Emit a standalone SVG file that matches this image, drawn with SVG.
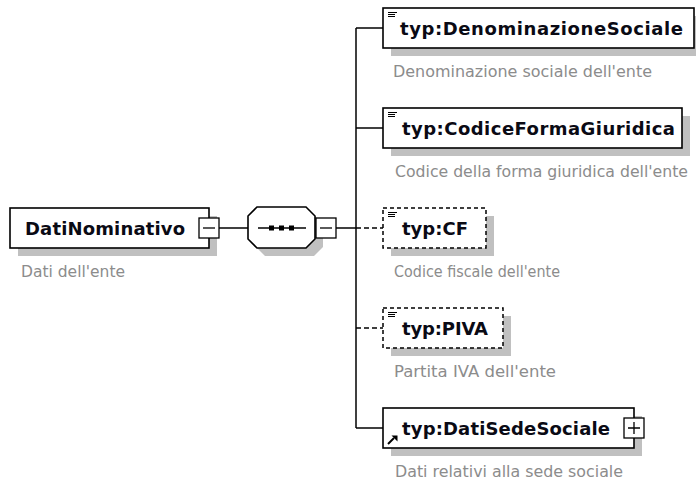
<svg xmlns="http://www.w3.org/2000/svg" width="696" height="485" viewBox="0 0 696 485">
<style>
.bg{fill:#fff}
.box{fill:#fff;stroke:#000;stroke-width:1.6}
.dbox{fill:#fff;stroke:#000;stroke-width:1.5;stroke-dasharray:4 3}
.sh{fill:#c0c0c0}
.btn{fill:#fff;stroke:#000;stroke-width:1.3}
.sign{stroke:#000;stroke-width:1.3;fill:none}
.name{font-family:"DejaVu Sans",sans-serif;font-weight:bold;font-size:18px;fill:#0a0a14}
.desc{font-family:"DejaVu Sans",sans-serif;font-size:15.5px;fill:#8c8c8c}
.conn{stroke:#000;stroke-width:1.5;fill:none}
.dconn{stroke:#000;stroke-width:1.5;fill:none;stroke-dasharray:5 3}
.ico{stroke:#000;stroke-width:1;fill:none}
</style>
<rect class="bg" x="0" y="0" width="696" height="485"/>
<g id="connectors">
<line class="conn" x1="219" y1="228" x2="248" y2="228"/>
<line class="conn" x1="336" y1="228" x2="356" y2="228"/>
<line class="conn" x1="356" y1="28" x2="356" y2="428"/>
<line class="conn" x1="356" y1="28" x2="383" y2="28"/>
<line class="conn" x1="356" y1="128" x2="383" y2="128"/>
<line class="dconn" x1="356" y1="228" x2="383" y2="228"/>
<line class="dconn" x1="356" y1="328" x2="383" y2="328"/>
<line class="conn" x1="356" y1="428" x2="383" y2="428"/>
</g>
<g id="root">
<rect class="sh" x="18" y="216" width="199" height="40"/>
<rect class="box" x="10" y="208" width="199" height="40"/>
<text class="name" x="25" y="235" textLength="160" lengthAdjust="spacing">DatiNominativo</text>
<rect class="btn" x="199" y="218" width="20" height="20"/>
<line class="sign" x1="203" y1="228" x2="215" y2="228"/>
<text class="desc" x="21" y="277" textLength="104" lengthAdjust="spacingAndGlyphs">Dati dell'ente</text>
</g>
<g id="sequence">
<polygon class="sh" points="265,215 314,215 323,224 323,247 314,256 265,256 256,247 256,224"/>
<polygon class="box" points="257,207 306,207 315,216 315,239 306,248 257,248 248,239 248,216"/>
<line class="conn" x1="258" y1="228" x2="306" y2="228"/>
<rect x="269" y="225.5" width="5" height="5" fill="#000"/>
<rect x="279" y="225.5" width="5" height="5" fill="#000"/>
<rect x="289" y="225.5" width="5" height="5" fill="#000"/>
<rect class="btn" x="316" y="218" width="20" height="20"/>
<line class="sign" x1="320" y1="228" x2="332" y2="228"/>
</g>
<g id="denominazione">
<rect class="sh" x="391" y="16" width="311" height="40"/>
<rect class="box" x="383" y="8" width="311" height="40"/>
<path class="ico" d="M388,12.5H397M388,14.5H395M388,16.5H395"/>
<text class="name" x="400" y="35" textLength="283" lengthAdjust="spacing">typ:DenominazioneSociale</text>
<text class="desc" x="393" y="77" textLength="259" lengthAdjust="spacingAndGlyphs">Denominazione sociale dell'ente</text>
</g>
<g id="codiceforma">
<rect class="sh" x="391" y="116" width="299" height="40"/>
<rect class="box" x="383" y="108" width="299" height="40"/>
<path class="ico" d="M388,112.5H397M388,114.5H395M388,116.5H395"/>
<text class="name" x="402" y="135" textLength="273" lengthAdjust="spacing">typ:CodiceFormaGiuridica</text>
<text class="desc" x="395" y="177" textLength="293" lengthAdjust="spacingAndGlyphs">Codice della forma giuridica dell'ente</text>
</g>
<g id="cf">
<rect class="sh" x="391" y="216" width="103" height="40"/>
<rect class="dbox" x="383" y="208" width="103" height="40"/>
<path class="ico" d="M388,212.5H397M388,214.5H395M388,216.5H395"/>
<text class="name" x="402" y="235" textLength="66" lengthAdjust="spacing">typ:CF</text>
<text class="desc" x="394" y="277" textLength="166" lengthAdjust="spacingAndGlyphs">Codice fiscale dell'ente</text>
</g>
<g id="piva">
<rect class="sh" x="391" y="316" width="120" height="40"/>
<rect class="dbox" x="383" y="308" width="120" height="40"/>
<path class="ico" d="M388,312.5H397M388,314.5H395M388,316.5H395"/>
<text class="name" x="402" y="335" textLength="86" lengthAdjust="spacing">typ:PIVA</text>
<text class="desc" x="394" y="377" textLength="162" lengthAdjust="spacingAndGlyphs">Partita IVA dell'ente</text>
</g>
<g id="datisede">
<rect class="sh" x="391" y="416" width="251" height="40"/>
<rect class="box" x="383" y="408" width="251" height="40"/>
<path d="M388,444 L394,438" stroke="#000" stroke-width="2" fill="none"/>
<polygon points="391.5,435.5 397.5,435.5 397.5,441.5" fill="#000"/>
<text class="name" x="402" y="435" textLength="208" lengthAdjust="spacing">typ:DatiSedeSociale</text>
<rect class="btn" x="624" y="418" width="20" height="20"/>
<path class="sign" d="M628,428H640M634,422V434"/>
<text class="desc" x="395" y="477" textLength="228" lengthAdjust="spacingAndGlyphs">Dati relativi alla sede sociale</text>
</g>
</svg>
